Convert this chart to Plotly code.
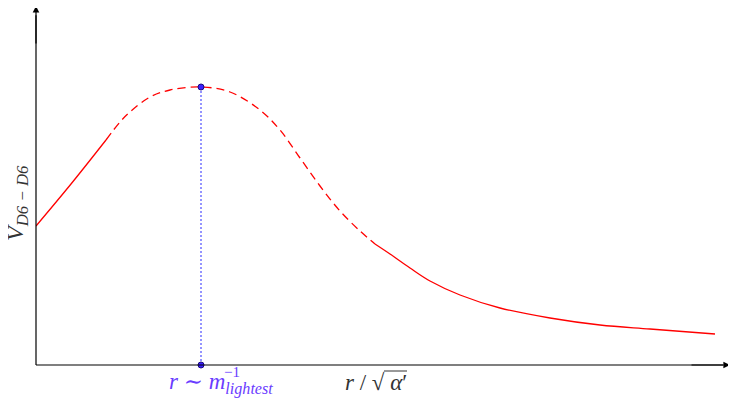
import plotly.graph_objects as go

# data (x in units along r axis, y potential value)
x_solid1 = [0, 35, 70]
y_solid1 = [139, 181, 225]
x_dash = [70, 84, 94, 114, 134, 165, 194, 224, 244, 264, 284, 304, 324, 339]
y_dash = [225, 243, 253, 268, 275, 278, 273, 255, 235, 207, 179, 154, 134, 121]
x_solid2 = [339, 354, 374, 394, 424, 464, 514, 564, 614, 679]
y_solid2 = [121, 111, 97, 84, 70, 57, 47, 40, 36, 31]
x_peak = 165
y_peak = 278

W, H = 728, 392
L, R, T, B = 28, 6, 0, 35
PW, PH = W - L - R, H - T - B  # 694 x 357

fig = go.Figure()
red = "#ff0000"
fig.add_trace(go.Scatter(x=x_solid1, y=y_solid1, mode="lines", line=dict(color=red, width=1.3, shape="spline")))
fig.add_trace(go.Scatter(x=x_dash, y=y_dash, mode="lines", line=dict(color=red, width=1.3, dash="8px,5px", shape="spline")))
fig.add_trace(go.Scatter(x=x_solid2, y=y_solid2, mode="lines", line=dict(color=red, width=1.3, shape="spline")))
fig.add_trace(go.Scatter(x=[x_peak, x_peak], y=[0, y_peak], mode="lines",
                         line=dict(color="#7a7aff", width=1.6, dash="2px,2px")))
fig.add_trace(go.Scatter(x=[x_peak, x_peak], y=[0, y_peak], mode="markers",
                         marker=dict(color="#3a1fff", size=6, line=dict(color="#1a0a80", width=1)),
                         cliponaxis=False))


def py(screen_y):
    return (365 - screen_y) / PH


def px(screen_x):
    return (screen_x - 36) / PW


ann = []
# axis arrows
ann.append(dict(x=1, y=0, xref="paper", yref="paper", ax=-40, ay=0,
                showarrow=True, arrowhead=2, arrowsize=1.1, arrowwidth=1.2, arrowcolor="black", text=""))
ann.append(dict(x=0, y=1, xref="paper", yref="paper", ax=0, ay=40, yshift=3,
                showarrow=True, arrowhead=2, arrowsize=1.1, arrowwidth=1.2, arrowcolor="black", text=""))
serif = "Liberation Serif, DejaVu Serif, serif"
common = dict(xref="paper", yref="paper", showarrow=False, xanchor="center", yanchor="middle")
ann.append(dict(x=px(17), y=py(203), textangle=-90,
                text="<i>V</i><sub><i>D6 − D6</i></sub>", font=dict(family=serif, size=24, color="#333333"), **common))
ann.append(dict(x=px(221), y=py(383),
                text="<i>r</i> ∼ <i>m</i><sub><i>lightest</i></sub>", font=dict(family=serif, size=23, color="#6a3cff"), **common))
ann.append(dict(x=px(232), y=py(372),
                text="−1", font=dict(family=serif, size=15, color="#6a3cff"), **common))
ann.append(dict(x=px(376), y=py(382),
                text="<i>r</i> / √ <i>α</i>′", font=dict(family=serif, size=23, color="#333333"), **common))

fig.update_layout(
    width=W, height=H,
    margin=dict(l=L, r=R, t=T, b=B, autoexpand=False),
    plot_bgcolor="white", paper_bgcolor="white",
    showlegend=False,
    annotations=ann,
    xaxis=dict(range=[0, PW], showgrid=False, zeroline=False, showticklabels=False, ticks="",
               showline=False),
    yaxis=dict(range=[0, PH], showgrid=False, zeroline=False, showticklabels=False, ticks="",
               showline=False),
)
fig.add_shape(type="line", xref="paper", yref="paper", x0=0, y0=0, x1=0.99, y1=0, line=dict(color="black", width=1.2))
fig.add_shape(type="line", xref="paper", yref="paper", x0=0, y0=0, x1=0, y1=0.98, line=dict(color="black", width=1.2))
# sqrt vinculum
fig.add_shape(type="line", xref="paper", yref="paper", x0=px(384), y0=py(371), x1=px(407), y1=py(371),
              line=dict(color="#333333", width=1))
fig.write_html("out.html")
